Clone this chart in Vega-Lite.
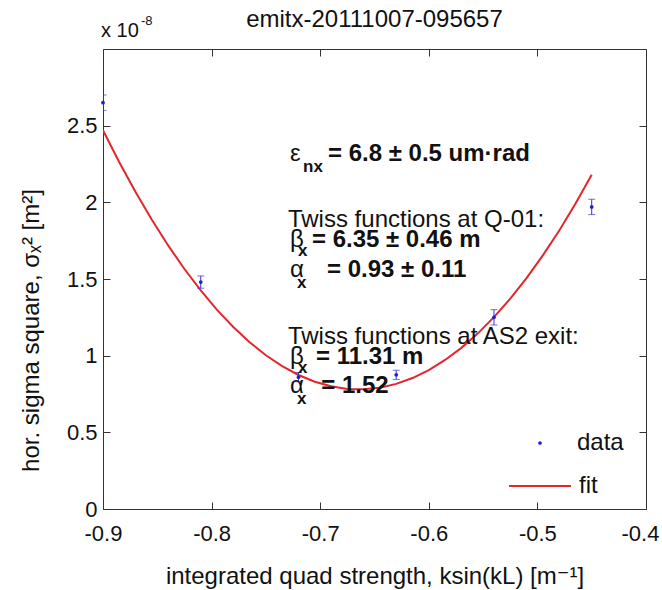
{
  "$schema": "https://vega.github.io/schema/vega-lite/v6.json",
  "width": 543,
  "height": 460,
  "autosize": "none",
  "padding": {"left": 103, "top": 49, "right": 16, "bottom": 81},
  "background": "white",
  "config": {
    "view": {"stroke": "#333", "strokeWidth": 1},
    "axis": {"labelFont": "Liberation Sans", "titleFont": "Liberation Sans, DejaVu Sans", "labelFontSize": 22, "titleFontSize": 24, "titleFontWeight": "normal", "labelColor": "#111", "titleColor": "#111", "grid": false, "domain": false, "tickColor": "#333", "tickSize": -7, "labelFlush": false},
    "legend": {"labelFont": "Liberation Sans", "labelFontSize": 24, "labelColor": "#111", "padding": 0}
  },
  "datasets": {
    "points": [
      {"k": -0.9, "s2": 2.65, "lo": 2.6, "hi": 2.7},
      {"k": -0.81, "s2": 1.48, "lo": 1.44, "hi": 1.52},
      {"k": -0.72, "s2": 0.86, "lo": 0.83, "hi": 0.89},
      {"k": -0.63, "s2": 0.875, "lo": 0.845, "hi": 0.905},
      {"k": -0.54, "s2": 1.25, "lo": 1.2, "hi": 1.3},
      {"k": -0.45, "s2": 1.97, "lo": 1.92, "hi": 2.02}
    ],
    "fit": [
      {"k": -0.9, "s2": 2.47}, {"k": -0.885, "s2": 2.262}, {"k": -0.87, "s2": 2.067}, {"k": -0.855, "s2": 1.886},
      {"k": -0.84, "s2": 1.719}, {"k": -0.825, "s2": 1.565}, {"k": -0.81, "s2": 1.426}, {"k": -0.795, "s2": 1.299},
      {"k": -0.78, "s2": 1.187}, {"k": -0.765, "s2": 1.088}, {"k": -0.75, "s2": 1.003}, {"k": -0.735, "s2": 0.932},
      {"k": -0.72, "s2": 0.874}, {"k": -0.705, "s2": 0.83}, {"k": -0.69, "s2": 0.8}, {"k": -0.675, "s2": 0.783},
      {"k": -0.66, "s2": 0.781}, {"k": -0.645, "s2": 0.791}, {"k": -0.63, "s2": 0.816}, {"k": -0.615, "s2": 0.854},
      {"k": -0.6, "s2": 0.906}, {"k": -0.585, "s2": 0.972}, {"k": -0.57, "s2": 1.051}, {"k": -0.555, "s2": 1.144},
      {"k": -0.54, "s2": 1.251}, {"k": -0.525, "s2": 1.372}, {"k": -0.51, "s2": 1.506}, {"k": -0.495, "s2": 1.654},
      {"k": -0.48, "s2": 1.815}, {"k": -0.465, "s2": 1.991}, {"k": -0.45, "s2": 2.18}
    ],
    "greek": [
      {"t": "ε", "x": -0.7278, "y": 2.268},
      {"t": "β", "x": -0.7278, "y": 1.706},
      {"t": "α", "x": -0.7278, "y": 1.516},
      {"t": "β", "x": -0.7278, "y": 0.948},
      {"t": "α", "x": -0.7278, "y": 0.758}
    ],
    "subs": [
      {"t": "nx", "x": -0.7158, "y": 2.196},
      {"t": "x", "x": -0.7204, "y": 1.647},
      {"t": "x", "x": -0.7214, "y": 1.444},
      {"t": "x", "x": -0.7204, "y": 0.889},
      {"t": "x", "x": -0.7214, "y": 0.686}
    ],
    "bold": [
      {"t": "= 6.8 ± 0.5 um·rad", "x": -0.6928, "y": 2.268},
      {"t": "= 6.35 ± 0.46 m", "x": -0.7076, "y": 1.706},
      {"t": "= 0.93 ± 0.11", "x": -0.6937, "y": 1.516},
      {"t": "= 11.31 m", "x": -0.7039, "y": 0.948},
      {"t": "= 1.52", "x": -0.699, "y": 0.758}
    ],
    "plain": [
      {"t": "Twiss functions at Q-01:", "x": -0.7297, "y": 1.837},
      {"t": "Twiss functions at AS2 exit:", "x": -0.7297, "y": 1.078}
    ],
    "title": [{"t": "emitx-20111007-095657"}],
    "exp": [{"t": "x 10"}],
    "expsup": [{"t": "-8"}]
  },
  "resolve": {"axis": {"x": "independent", "y": "independent"}},
  "layer": [
    {
      "data": {"name": "fit"},
      "mark": {"type": "line", "strokeWidth": 2, "clip": true},
      "encoding": {
        "x": {"field": "k", "type": "quantitative", "scale": {"domain": [-0.9, -0.4], "nice": false, "zero": false},
          "axis": {"orient": "bottom", "values": [-0.9, -0.8, -0.7, -0.6, -0.5, -0.4], "labelExpr": "replace(format(datum.value, '.1f'), '\u2212', '-')", "labelOffset": {"expr": "datum.value > -0.41 ? -6 : 0"}, "title": "integrated quad strength, ksin(kL) [m⁻¹]", "labelPadding": 21, "titlePadding": 20}},
        "y": {"field": "s2", "type": "quantitative", "scale": {"domain": [0, 3], "nice": false},
          "axis": {"orient": "left", "values": [0, 0.5, 1, 1.5, 2, 2.5], "labelExpr": "format(datum.value, '~g')", "title": "hor. sigma square, σₓ² [m²]", "labelPadding": 13, "titlePadding": 23, "titleY": 281}},
        "stroke": {"datum": "fit", "scale": {"domain": ["fit"], "range": ["#e3262e"]},
          "legend": {"orient": "none", "legendX": 405, "legendY": 405, "title": null, "symbolType": "stroke", "symbolSize": 3844, "symbolStrokeWidth": 2, "labelOffset": 7}}
      }
    },
    {
      "data": {"name": "points"},
      "mark": {"type": "rule", "color": "#3535d5", "strokeWidth": 1, "clip": true},
      "encoding": {
        "x": {"field": "k", "type": "quantitative", "axis": null},
        "y": {"field": "lo", "type": "quantitative", "axis": null},
        "y2": {"field": "hi"}
      }
    },
    {
      "data": {"name": "points"},
      "mark": {"type": "tick", "orient": "horizontal", "size": 7, "thickness": 1, "color": "#3535d5", "clip": true},
      "encoding": {
        "x": {"field": "k", "type": "quantitative", "axis": null},
        "y": {"field": "lo", "type": "quantitative", "axis": null}
      }
    },
    {
      "data": {"name": "points"},
      "mark": {"type": "tick", "orient": "horizontal", "size": 7, "thickness": 1, "color": "#3535d5", "clip": true},
      "encoding": {
        "x": {"field": "k", "type": "quantitative", "axis": null},
        "y": {"field": "hi", "type": "quantitative", "axis": null}
      }
    },
    {
      "data": {"name": "points"},
      "mark": {"type": "point", "filled": true, "size": 14, "opacity": 1},
      "encoding": {
        "x": {"field": "k", "type": "quantitative", "axis": {"orient": "top", "labels": false, "title": null, "values": [-0.9, -0.8, -0.7, -0.6, -0.5, -0.4]}},
        "y": {"field": "s2", "type": "quantitative", "axis": {"orient": "right", "labels": false, "title": null, "values": [0, 0.5, 1, 1.5, 2, 2.5]}},
        "color": {"datum": "data", "scale": {"domain": ["data"], "range": ["#1f1fd0"]},
          "legend": {"orient": "none", "legendX": 425, "legendY": 382, "title": null, "symbolType": "circle", "symbolSize": 14, "labelOffset": 25}}
      }
    },
    {
      "data": {"name": "plain"},
      "mark": {"type": "text", "font": "Liberation Sans", "fontSize": 24, "fontWeight": "normal", "align": "left", "baseline": "alphabetic", "color": "#111"},
      "encoding": {
        "x": {"field": "x", "type": "quantitative", "axis": null},
        "y": {"field": "y", "type": "quantitative", "axis": null},
        "text": {"field": "t"}
      }
    },
    {
      "data": {"name": "greek"},
      "mark": {"type": "text", "font": "Liberation Sans", "fontSize": 24, "fontWeight": "normal", "align": "left", "baseline": "alphabetic", "color": "#111"},
      "encoding": {
        "x": {"field": "x", "type": "quantitative", "axis": null},
        "y": {"field": "y", "type": "quantitative", "axis": null},
        "text": {"field": "t"}
      }
    },
    {
      "data": {"name": "subs"},
      "mark": {"type": "text", "font": "Liberation Sans", "fontSize": 17, "fontWeight": "bold", "align": "left", "baseline": "alphabetic", "color": "#111"},
      "encoding": {
        "x": {"field": "x", "type": "quantitative", "axis": null},
        "y": {"field": "y", "type": "quantitative", "axis": null},
        "text": {"field": "t"}
      }
    },
    {
      "data": {"name": "bold"},
      "mark": {"type": "text", "font": "Liberation Sans", "fontSize": 24, "fontWeight": "bold", "align": "left", "baseline": "alphabetic", "color": "#111"},
      "encoding": {
        "x": {"field": "x", "type": "quantitative", "axis": null},
        "y": {"field": "y", "type": "quantitative", "axis": null},
        "text": {"field": "t"}
      }
    },
    {
      "data": {"name": "title"},
      "mark": {"type": "text", "font": "Liberation Sans", "fontSize": 24, "align": "center", "baseline": "alphabetic", "color": "#111", "dy": -22},
      "encoding": {
        "x": {"datum": -0.65, "type": "quantitative", "axis": null},
        "y": {"datum": 3, "type": "quantitative", "axis": null},
        "text": {"field": "t"}
      }
    },
    {
      "data": {"name": "exp"},
      "mark": {"type": "text", "font": "Liberation Sans", "fontSize": 20, "align": "left", "baseline": "alphabetic", "color": "#111", "dx": -2, "dy": -12},
      "encoding": {
        "x": {"datum": -0.9, "type": "quantitative", "axis": null},
        "y": {"datum": 3, "type": "quantitative", "axis": null},
        "text": {"field": "t"}
      }
    },
    {
      "data": {"name": "expsup"},
      "mark": {"type": "text", "font": "Liberation Sans", "fontSize": 13, "align": "left", "baseline": "alphabetic", "color": "#111", "dx": 38, "dy": -24},
      "encoding": {
        "x": {"datum": -0.9, "type": "quantitative", "axis": null},
        "y": {"datum": 3, "type": "quantitative", "axis": null},
        "text": {"field": "t"}
      }
    }
  ]
}
